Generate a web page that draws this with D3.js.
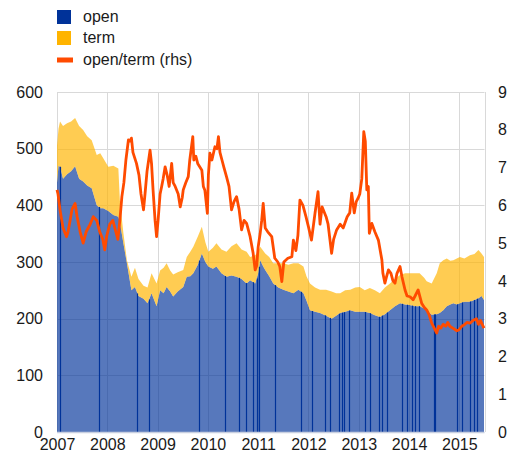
<!DOCTYPE html>
<html>
<head>
<meta charset="utf-8">
<script src="https://cdn.jsdelivr.net/npm/d3@7"></script>
<style>
  body { margin: 0; background: #fff; }
  svg { display: block; font-family: Arial, "Liberation Sans", sans-serif; }
</style>
</head>
<body>
<script>
// dates as decimal years
var dates = [2007.00,2007.03,2007.06,2007.12,2007.20,2007.28,2007.36,2007.44,2007.52,2007.60,2007.69,2007.79,2007.86,2007.92,
  2008.02,2008.12,2008.22,2008.25,2008.32,2008.39,2008.48,2008.55,2008.62,2008.72,2008.80,2008.88,2008.98,
  2009.05,2009.12,2009.18,2009.25,2009.31,2009.40,2009.51,2009.58,2009.65,2009.71,2009.80,2009.88,2009.95,
  2010.01,2010.10,2010.17,2010.27,2010.37,2010.47,2010.57,2010.67,2010.77,2010.84,2010.94,
  2011.00,2011.04,2011.10,2011.14,2011.22,2011.30,2011.40,2011.50,2011.60,2011.70,2011.80,2011.90,2011.96,
  2012.03,2012.13,2012.23,2012.35,2012.46,2012.55,2012.63,2012.73,2012.83,2012.93,
  2013.02,2013.12,2013.22,2013.32,2013.42,2013.52,2013.62,2013.72,2013.82,2013.92,
  2014.01,2014.11,2014.21,2014.30,2014.35,2014.45,2014.55,2014.61,2014.68,2014.75,2014.82,2014.88,2014.95,
  2015.01,2015.10,2015.21,2015.30,2015.38,2015.44,2015.49];
var openVals = [440,470,468,447,455,460,469,447,442,435,430,400,395,395,
  390,383,380,370,333,298,250,256,240,235,227,245,222,
  250,245,256,248,239,248,256,274,275,280,295,315,300,
  292,288,292,280,274,276,274,270,262,268,262,
  280,303,292,286,275,262,255,251,248,245,251,245,232,
  215,212,210,205,200,205,210,212,215,212,
  212,212,210,206,203,208,215,222,227,225,
  224,222,222,218,215,207,208,210,215,222,225,227,225,
  227,230,230,233,236,240,233];
var termVals = [65,65,80,93,90,88,85,93,91,87,85,89,97,88,
  78,87,85,39,18,5,24,34,30,23,28,35,40,
  35,45,42,37,39,34,30,35,43,47,50,47,35,
  26,37,41,42,44,52,59,52,56,41,50,
  38,24,28,29,34,36,43,47,47,53,47,47,43,
  47,43,41,46,48,40,35,38,36,43,
  44,38,44,44,42,47,47,48,50,55,
  56,58,58,54,51,55,72,88,88,84,77,76,81,
  82,76,82,81,85,75,76];

var ratioDates = [2007.00,2007.02,2007.06,2007.12,2007.19,2007.22,2007.26,2007.30,2007.36,2007.40,2007.46,2007.52,2007.58,2007.66,2007.72,2007.79,2007.85,2007.91,2007.95,2007.99,
  2008.05,2008.11,2008.15,2008.21,2008.25,2008.29,2008.33,2008.37,2008.42,2008.45,2008.48,2008.51,2008.58,2008.63,2008.67,2008.72,2008.75,2008.79,2008.85,2008.88,2008.91,2008.95,2008.98,
  2009.01,2009.05,2009.08,2009.11,2009.15,2009.19,2009.23,2009.28,2009.31,2009.35,2009.41,2009.45,2009.49,2009.51,2009.56,2009.61,2009.64,2009.70,2009.72,2009.76,2009.80,2009.88,2009.91,2009.94,2009.99,
  2010.01,2010.04,2010.08,2010.14,2010.18,2010.21,2010.24,2010.28,2010.32,2010.37,2010.42,2010.47,2010.52,2010.57,2010.62,2010.67,2010.72,2010.77,2010.84,2010.90,2010.94,2010.97,
  2011.00,2011.04,2011.07,2011.10,2011.14,2011.19,2011.27,2011.33,2011.39,2011.43,2011.47,2011.51,2011.59,2011.67,2011.70,2011.75,2011.79,2011.83,2011.89,2011.95,
  2012.00,2012.06,2012.13,2012.19,2012.23,2012.27,2012.35,2012.39,2012.46,2012.50,2012.56,2012.63,2012.69,2012.77,2012.82,2012.86,2012.91,2012.95,2012.99,
  2013.02,2013.06,2013.10,2013.13,2013.16,2013.19,2013.21,2013.26,2013.32,2013.39,2013.46,2013.48,2013.52,2013.55,2013.59,2013.64,2013.68,2013.72,2013.76,2013.82,2013.86,2013.92,2013.96,
  2014.02,2014.08,2014.12,2014.18,2014.25,2014.30,2014.35,2014.40,2014.45,2014.50,2014.55,2014.59,2014.63,2014.68,2014.73,2014.77,2014.81,2014.87,2014.95,2014.99,
  2015.05,2015.11,2015.15,2015.21,2015.27,2015.34,2015.38,2015.42,2015.49];
var ratioVals = [6.41,6.3,5.88,5.4,5.17,5.3,5.6,5.9,6.05,5.7,5.3,5.0,5.3,5.5,5.7,5.6,5.3,5.1,4.82,5.2,
  5.5,5.6,5.4,5.1,5.6,6.23,6.6,7.2,7.73,7.7,7.78,7.4,7.11,6.8,6.3,5.88,6.3,6.9,7.46,7.1,6.41,5.6,5.17,
  5.6,6.3,6.49,6.7,7.02,6.8,6.5,7.11,6.6,6.5,6.3,5.96,6.2,6.41,6.6,6.76,7.2,7.82,7.2,7.3,7.1,6.93,6.5,6.4,5.79,
  6.8,7.38,7.2,7.55,7.5,7.82,7.4,7.2,7.0,6.76,6.5,5.88,6.1,6.23,5.9,5.35,5.6,5.52,5.17,4.73,4.29,4.4,
  4.9,5.26,5.6,6.05,5.4,5.3,5.17,4.6,4.5,4.38,3.98,4.5,4.6,4.64,5.08,4.8,5.2,6.14,6.0,5.7,
  5.43,5.08,5.79,6.36,5.5,5.96,5.7,5.5,4.73,5.1,5.35,5.5,5.4,5.7,5.8,6.32,5.8,6.1,6.2,
  6.3,6.7,7.95,7.7,6.41,6.5,5.26,5.52,5.3,5.08,4.55,4.2,3.94,4.1,4.29,4.2,4.0,3.94,4.2,4.38,4.1,3.76,3.6,
  3.58,3.5,3.6,3.76,3.41,3.3,3.23,3.1,2.88,2.75,2.62,2.8,2.75,2.85,2.8,2.9,2.8,2.75,2.68,2.7,
  2.8,2.85,2.9,2.88,2.95,3.0,2.85,2.95,2.75];

// days where the open series shows as a dark stroke
var spikeDates = [2007.06,2007.83,2008.60,2008.83,2009.83,2010.35,2010.62,2010.76,2010.90,2010.97,2011.02,
  2011.34,2011.86,2012.08,2012.33,2012.43,2012.61,2012.66,2012.70,2012.81,2013.13,2013.23,2013.41,2013.47,2013.56,
  2013.86,2013.96,2014.06,2014.12,2014.20,2014.50,2014.51,2014.96,2015.06,2015.22,2015.30,2015.36];

var yearTicks = [2007,2008,2009,2010,2011,2012,2013,2014,2015];
var leftTicks = [0,100,200,300,400,500,600];
var rightTicks = [0,1,2,3,4,5,6,7,8,9];
var legendItems = ["open", "term", "open/term (rhs)"];

var blue = "#003299", yellow = "#ffb400", orange = "#ff4b00";

var svg = d3.select("body").append("svg").attr("width", 516).attr("height", 454);

var x = d3.scaleLinear().domain([2007, 2015.5]).range([57, 484.5]);
var y = d3.scaleLinear().domain([0, 600]).range([432, 92]);
var y2 = d3.scaleLinear().domain([0, 9]).range([432, 92]);

var rows = dates.map(function(d, i) { return {date: d, open: openVals[i], term: termVals[i]}; });
var stacked = d3.stack().keys(["open", "term"])(rows);

// grid
var grid = svg.append("g").attr("stroke", "#d9d9d9").attr("stroke-width", 1);
grid.selectAll(".h").data(leftTicks.slice(1)).enter().append("line")
  .attr("x1", x.range()[0]).attr("x2", x.range()[1])
  .attr("y1", function(d) { return Math.round(y(d)) + 0.5; })
  .attr("y2", function(d) { return Math.round(y(d)) + 0.5; });
grid.selectAll(".v").data(yearTicks.concat([2015.5])).enter().append("line")
  .attr("x1", function(d) { return Math.round(x(d)) + 0.5; })
  .attr("x2", function(d) { return Math.round(x(d)) + 0.5; })
  .attr("y1", 92).attr("y2", 432);

// areas
var area = d3.area()
  .x(function(d) { return x(d.data.date); })
  .y0(function(d) { return y(d[0]); })
  .y1(function(d) { return y(d[1]); });

svg.selectAll(".area").data(stacked).enter().append("path")
  .attr("d", area)
  .attr("fill", function(d) { return d.key === "open" ? blue : yellow; })
  .attr("fill-opacity", function(d) { return d.key === "open" ? 0.66 : 0.68; });

// dark strokes inside the open area
var openAt = d3.scaleLinear().domain(dates).range(openVals);
svg.append("g").selectAll("line").data(spikeDates).enter().append("line")
  .attr("x1", function(d) { return Math.round(x(d)) + 0.5; })
  .attr("x2", function(d) { return Math.round(x(d)) + 0.5; })
  .attr("y1", y(0))
  .attr("y2", function(d) { return y(openAt(d)); })
  .attr("stroke", blue).attr("stroke-width", 1.2);

// bottom axis line
svg.append("line").attr("x1", 57).attr("x2", 484.5).attr("y1", 432.5).attr("y2", 432.5)
  .attr("stroke", "#c8cfe0").attr("stroke-width", 1.5);

// ratio line
var line = d3.line()
  .x(function(d) { return x(d); })
  .y(function(d, i) { return y2(ratioVals[i]); });
svg.append("path").datum(ratioDates).attr("d", line)
  .attr("fill", "none").attr("stroke", orange).attr("stroke-width", 2.8)
  .attr("stroke-linejoin", "round");

// axes
function styleAxis(g) {
  g.select(".domain").remove();
  g.selectAll(".tick line").remove();
  g.selectAll("text").attr("fill", "#1a1a1a").style("font-size", "16px");
}
svg.append("g").attr("transform", "translate(57,0)")
  .call(d3.axisLeft(y).tickValues(leftTicks).tickSize(0).tickPadding(14))
  .call(styleAxis);
svg.append("g").attr("transform", "translate(484,0)")
  .call(d3.axisRight(y2).tickValues(rightTicks).tickSize(0).tickPadding(14).tickFormat(d3.format("d")))
  .call(styleAxis);
svg.append("g").attr("transform", "translate(0,432)")
  .call(d3.axisBottom(x).tickValues(yearTicks).tickSize(0).tickPadding(7).tickFormat(d3.format("d")))
  .call(styleAxis);

// legend
var legend = svg.append("g").attr("transform", "translate(57,0)");
legend.append("rect").attr("x", 0).attr("y", 10).attr("width", 14).attr("height", 14).attr("fill", blue);
legend.append("rect").attr("x", 0).attr("y", 31).attr("width", 14).attr("height", 14).attr("fill", yellow);
legend.append("rect").attr("x", 0).attr("y", 57.5).attr("width", 16).attr("height", 5).attr("fill", orange);
legend.selectAll("text").data(legendItems).enter().append("text")
  .attr("x", 26)
  .attr("y", function(d, i) { return 21.5 + i * 21.5; })
  .attr("fill", "#1a1a1a").style("font-size", "16px")
  .text(function(d) { return d; });
</script>
</body>
</html>
